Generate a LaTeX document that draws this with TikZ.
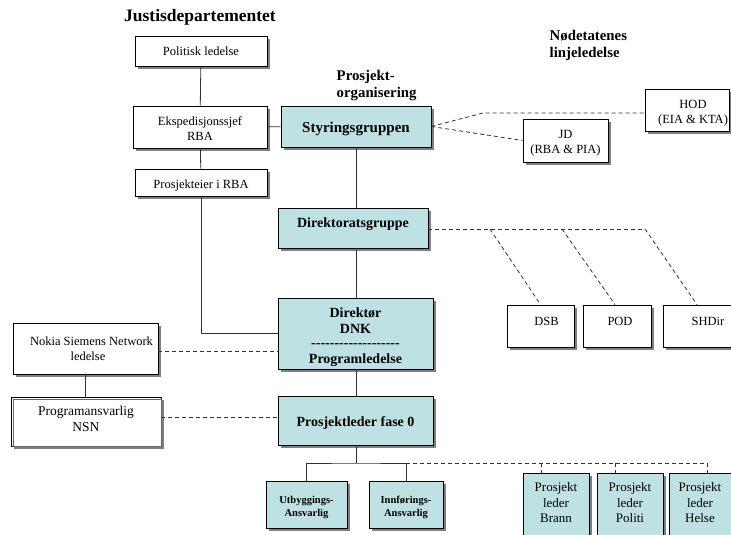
\documentclass[tikz,border=0pt]{standalone}
\usepackage{fontspec}
\setmainfont{Liberation Serif}
\usetikzlibrary{shadows}
\definecolor{boxcyan}{RGB}{190,225,228}
\definecolor{shadowgray}{RGB}{128,128,128}
\newcommand\rsh[1]{\hspace*{#1pt}}

\begin{document}
\begin{tikzpicture}[x=1pt,y=-1pt,line width=0.8pt]
                \tikzstyle{every node}=[font=\fontsize{12.5}{15}\selectfont, align=center]
                \tikzstyle{box}=[draw=black, fill=white, inner sep=0pt, drop shadow={shadow xshift=3pt, shadow yshift=-3pt, fill=shadowgray, opacity=1}]
                \tikzstyle{hbox}=[box, fill=boxcyan, font=\bfseries\fontsize{14}{16}\selectfont]
                \tikzstyle{sbox}=[box, fill=boxcyan, font=\bfseries\fontsize{10.5}{12.5}\selectfont, text height=23pt, text depth=0pt]
                \tikzstyle{pbox}=[box, fill=boxcyan, minimum width=66, minimum height=75, font=\fontsize{13}{15.5}\selectfont, text depth=16pt]
                \tikzstyle{title}=[font=\bfseries\fontsize{14.8}{17}\selectfont, align=left]
                \tikzstyle{link}=[draw=black!80]
                \tikzstyle{dline}=[draw=black!80, dash pattern=on 4pt off 3pt]
                \clip (0,0) rectangle (731,535);
                \fill[white] (0,0) rectangle (731,535);
                % headings
                \node[font=\bfseries\fontsize{17.5}{20}\selectfont] (jdhead) at (200,17) {Justisdepartementet};
                \node[title, anchor=west] (prohead) at (333,85) {Prosjekt-\\organisering};
                \node[title, anchor=west] (nodhead) at (546,45.5) {Nødetatenes\\linjeledelse};
                % justisdepartementet
                \node[box, minimum width=132, minimum height=30, text height=10pt, text depth=0pt] (pol) at (201,51) {Politisk ledelse};
                \node[box, minimum width=134, minimum height=42, text height=27pt, text depth=0pt] (eks) at (200,127) {Ekspedisjonssjef\\RBA};
                \node[box, minimum width=132, minimum height=27, text height=12pt, text depth=0pt] (eier) at (201,182.5) {Prosjekteier i RBA};
                % prosjektorganisering
                \node[hbox, minimum width=150, minimum height=41, font=\bfseries\fontsize{15}{17}\selectfont, text height=11pt, text depth=0pt] (styr) at (356,126.5) {Styringsgruppen};
                \node[hbox, minimum width=150, minimum height=40, text height=0pt, text depth=2pt] (dirg) at (353,228) {Direktoratsgruppe};
                \node[hbox, minimum width=155, minimum height=71, text height=60pt, text depth=0pt] (dnk) at (355.5,333.5) {Direktør\\DNK\\[-2pt]-{}-{}-{}-{}-{}-{}-{}-{}-{}-{}-{}-{}-{}-{}-{}-{}-{}-{}-{}\\Programledelse};
                \node[hbox, minimum width=155, minimum height=49, text height=12pt, text depth=0pt] (pl0) at (355.5,420.5) {Prosjektleder fase 0};
                \node[sbox, minimum width=81, minimum height=47] (utb) at (306.5,504.5) {Utbyggings-\\Ansvarlig};
                \node[sbox, minimum width=74, minimum height=47] (inn) at (406,504.5) {Innførings-\\Ansvarlig};
                % nødetatene
                \node[box, minimum width=84, minimum height=42, text height=27pt, text depth=0pt] (hod) at (687,110) {\rsh{12}HOD\\\rsh{12}(EIA \& KTA)};
                \node[box, minimum width=85, minimum height=43, text height=26pt, text depth=0pt] (jd) at (565.5,140.5) {JD\\(RBA \& PIA)};
                \node[box, minimum width=67, minimum height=42, text depth=10pt] (dsb) at (540.5,326) {\rsh{12}DSB};
                \node[box, minimum width=68, minimum height=42, text depth=10pt] (pod) at (617,326) {\rsh{6}POD};
                \node[box, minimum width=90, minimum height=42, text depth=10pt] (shd) at (708,326) {SHDir};
                \node[pbox] (brann) at (556,510.5) {Prosjekt\\leder\\Brann};
                \node[pbox] (politi) at (630,510.5) {Prosjekt\\leder\\Politi};
                \node[pbox, minimum width=62] (helse) at (700,510.5) {Prosjekt\\leder\\Helse};
                % leverandør
                \node[box, minimum width=145, minimum height=51] (nsn) at (85.5,348.5) {\rsh{12}Nokia Siemens Network\\\rsh{5}ledelse};
                \node[box, minimum width=150, minimum height=49, font=\fontsize{13.5}{16}\selectfont, text depth=6pt] (pan) at (86,421.5) {Programansvarlig\\NSN};
                \draw[black!60] ([shift={(2.5pt,-2.5pt)}]pan.north west) rectangle (pan.south east);

                % solid lines
                \draw[link] (pol) -- (eks);
                \draw[link] (eks) -- (eier);
                \draw[link] (eks) -- (styr);
                \draw[link] (eier.south) |- (dnk.west);
                \draw[link] (styr.south) -- (styr.south |- dirg.north);
                \draw[link] (styr.south |- dirg.south) -- (styr.south |- dnk.north);
                \draw[link] (styr.south |- dnk.south) -- (styr.south |- pl0.north);
                \draw[link] (nsn.south) -- (nsn.south |- pan.north);
                \coordinate (tree) at (356,463);
                \draw[link] (pl0.south -| tree) -- (tree);
                \draw[link] (utb.north) |- (tree) -| (inn.north);

                % dashed lines
                \coordinate (hodk) at (483,113);
                \draw[dline] (styr.east) -- (hodk) -- (hodk -| hod.west);
                \draw[dline] (styr.east) -- (jd.west);
                \coordinate (d1) at (490,229);
                \coordinate (d2) at (562,229);
                \coordinate (d3) at (645,229);
                \draw[dline] (dirg.east |- d3) -- (d3);
                \draw[dline] (d1) -- (dsb.north);
                \draw[dline] (d2) -- ([xshift=-2pt]pod.north);
                \draw[dline] (d3) -- ([xshift=-11pt]shd.north);
                \coordinate (nsnr) at ([yshift=-2.5pt]nsn.east);
                \draw[dline] (nsnr) -- (nsnr -| dnk.west);
                \coordinate (panr) at ([yshift=4.5pt]pan.east);
                \draw[dline] (panr) -- (panr -| pl0.west);
                \coordinate (p1) at (541,463);
                \coordinate (p2) at (615,463);
                \coordinate (p3) at (707,463);
                \draw[dline] (inn.north |- tree) -- (p3);
                \draw[dline] (p1) -- (p1 |- brann.north);
                \draw[dline] (p2) -- (p2 |- politi.north);
                \draw[dline] (p3) -- (p3 |- helse.north);
\end{tikzpicture}
\end{document}
